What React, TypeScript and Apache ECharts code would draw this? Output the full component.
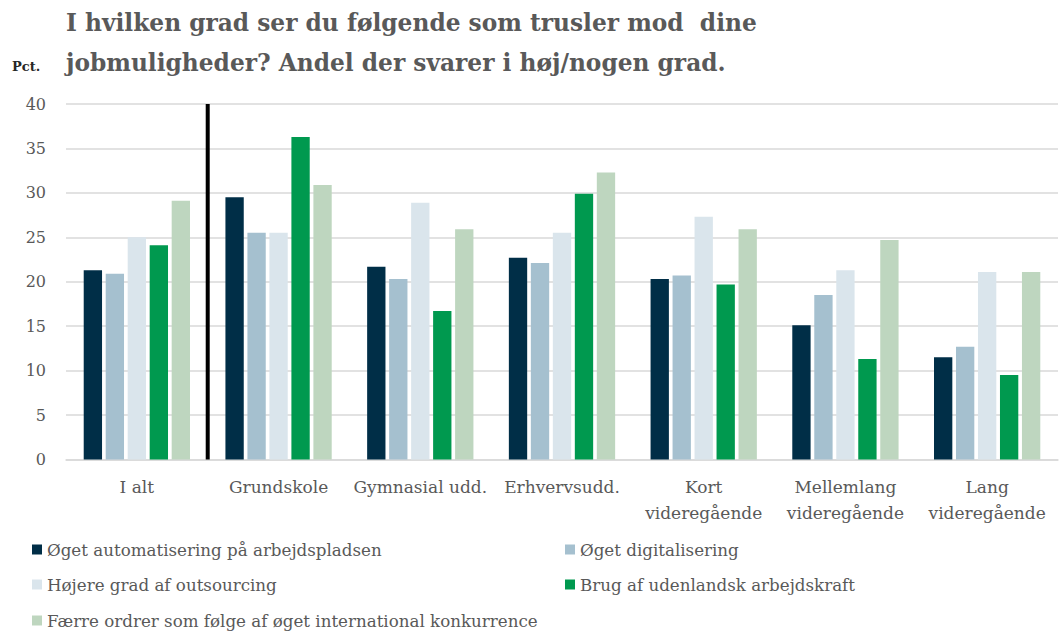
import React, { useEffect, useRef } from "react";
import * as echarts from "echarts";

const titleText = "I hvilken grad ser du følgende som trusler mod  dine\njobmuligheder? Andel der svarer i høj/nogen grad.";
const unitLabel = "Pct.";

const categories = [
  "I alt",
  "Grundskole",
  "Gymnasial udd.",
  "Erhvervsudd.",
  "Kort\nvideregående",
  "Mellemlang\nvideregående",
  "Lang\nvideregående",
];

const seriesNames = [
  "Øget automatisering på arbejdspladsen",
  "Øget digitalisering",
  "Højere grad af outsourcing",
  "Brug af udenlandsk arbejdskraft",
  "Færre ordrer som følge af øget international konkurrence",
];

const automatisering = [21.3, 29.5, 21.7, 22.7, 20.3, 15.1, 11.5];
const digitalisering = [20.9, 25.5, 20.3, 22.1, 20.7, 18.5, 12.7];
const outsourcing = [25.0, 25.5, 28.9, 25.5, 27.3, 21.3, 21.1];
const udenlandsk = [24.1, 36.3, 16.7, 29.9, 19.7, 11.3, 9.5];
const konkurrence = [29.1, 30.9, 25.9, 32.3, 25.9, 24.7, 21.1];

const seriesValues = [automatisering, digitalisering, outsourcing, udenlandsk, konkurrence];
const colors = ["#002E47", "#A5C0CF", "#DAE5EC", "#00994F", "#BED6BF"];

const yMin = 0;
const yMax = 40;
const yInterval = 5;

// divider between "I alt" and the education groups (category boundary index)
const dividerAt = 1;

const FONT = "DejaVu Serif";
const GREY = "#595959";

export default function App() {
  const ref = useRef<HTMLDivElement>(null);

  useEffect(() => {
    document.body.style.margin = "0";
    if (!ref.current) return;
    const chart = echarts.init(ref.current, undefined, { renderer: "svg" });

    const legendPos = [
      { left: 32, top: 541 },
      { left: 565, top: 541 },
      { left: 32, top: 576 },
      { left: 565, top: 576 },
      { left: 32, top: 612 },
    ];

    const option: any = {
      animation: false,
      backgroundColor: "#ffffff",
      title: {
        text: titleText,
        left: 66,
        top: 2,
        padding: 0,
        textStyle: {
          fontFamily: FONT,
          fontWeight: "bold",
          fontSize: 23.3,
          lineHeight: 40,
          color: GREY,
        },
      },
      graphic: [
        {
          type: "text",
          left: 12,
          top: 60,
          style: {
            text: unitLabel,
            fontFamily: FONT,
            fontWeight: "bold",
            fontSize: 13,
            fill: "#262626",
          },
        },
      ],
      grid: { left: 66, right: 1, top: 104, bottom: 177.5, containLabel: false },
      legend: seriesNames.map((n, i) => ({
        data: [n],
        left: legendPos[i].left,
        top: legendPos[i].top,
        padding: 0,
        icon: "rect",
        itemWidth: 10,
        itemHeight: 10,
        itemGap: 5,
        textStyle: { fontFamily: FONT, fontSize: 16.7, color: GREY },
      })),
      xAxis: [
        {
          type: "category",
          data: categories,
          axisLine: { show: true, lineStyle: { color: "#d9d9d9", width: 1.5 } },
          axisTick: { show: false },
          axisLabel: {
            interval: 0,
            margin: 14,
            fontFamily: FONT,
            fontSize: 17,
            lineHeight: 26,
            color: GREY,
          },
        },
        { type: "value", min: 0, max: categories.length, show: false },
      ],
      yAxis: {
        type: "value",
        min: yMin,
        max: yMax,
        interval: yInterval,
        axisLine: { show: false },
        axisTick: { show: false },
        splitLine: { lineStyle: { color: "#d9d9d9", width: 1.5 } },
        axisLabel: {
          margin: 20,
          fontFamily: FONT,
          fontSize: 16,
          color: GREY,
        },
      },
      series: [
        ...seriesNames.map((n, i) => ({
          name: n,
          type: "bar",
          xAxisIndex: 0,
          data: seriesValues[i],
          barGap: "20%",
          barCategoryGap: "25%",
          itemStyle: { color: colors[i] },
        })),
        {
          type: "line",
          xAxisIndex: 1,
          silent: true,
          symbol: "none",
          data: [
            [dividerAt, yMin],
            [dividerAt, yMax],
          ],
          lineStyle: { color: "#000000", width: 4 },
        },
      ],
    };

    chart.setOption(option);
    return () => chart.dispose();
  }, []);

  return <div ref={ref} style={{ width: 1059, height: 637 }} />;
}
